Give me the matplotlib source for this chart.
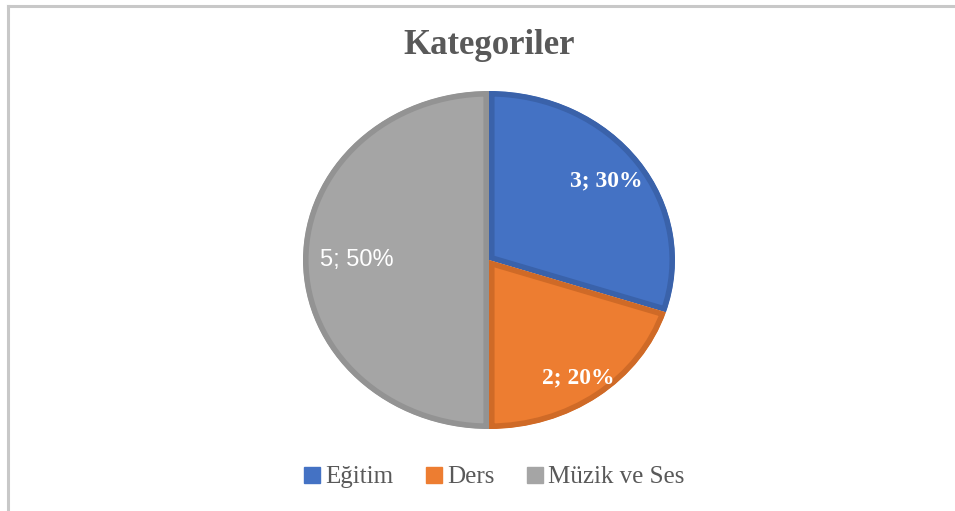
import matplotlib
matplotlib.use("Agg")
import matplotlib.pyplot as plt
from matplotlib.lines import Line2D

categories = ["Eğitim", "Ders", "Müzik ve Ses"]
values = [3, 2, 5]
fill_colors = ["#4472C4", "#ED7D31", "#A5A5A5"]
edge_colors = ["#3A62AA", "#CF6A27", "#939393"]
title = "Kategoriler"

W, H = 955, 511
fig = plt.figure(figsize=(W / 100, H / 100), dpi=100)
fig.patch.set_facecolor("white")

# chart frame (top and left edges visible)
fig.add_artist(Line2D([8 / W, 1.0], [1 - 6 / H, 1 - 6 / H], color="#C8C8C8", lw=2.2,
                      transform=fig.transFigure))
fig.add_artist(Line2D([8 / W, 8 / W], [0.0, 1 - 6 / H], color="#C8C8C8", lw=2.2,
                      transform=fig.transFigure))

# pie area in pixel coordinates
cx, cy, rx, ry = 489, 260, 186, 169
ax = fig.add_axes([(cx - rx) / W, (H - cy - ry) / H, 2 * rx / W, 2 * ry / H])

total = sum(values)
wedges, _ = ax.pie(values, colors=fill_colors, startangle=90, counterclock=False,
                   radius=1.0, wedgeprops=dict(linewidth=0))
ax.set_aspect("auto")
ax.set_xlim(-1, 1)
ax.set_ylim(-1, 1)
ax.axis("off")

# darker inner border on each slice: stroke the outline, clipped to the slice itself
for w, ec in zip(wedges, edge_colors):
    w.set_edgecolor(ec)
    w.set_linewidth(8)
    w.set_clip_on(True)
    w.set_clip_path(w.get_path(), w.get_transform())

# data labels
label_pos = [(0.63, 0.47), (0.48, -0.70), (-0.71, 0.0)]
for i, (v, (lx, ly)) in enumerate(zip(values, label_pos)):
    txt = f"{v}; {round(100 * v / total)}%"
    if i < 2:
        ax.text(lx, ly, txt, ha="center", va="center", color="white",
                fontsize=17, fontweight="bold", family="Liberation Serif")
    else:
        ax.text(lx, ly, txt, ha="center", va="center", color="white",
                fontsize=17, family="Liberation Sans")

fig.text(489 / W, 1 - 45 / H, title, ha="center", va="center", color="#595959",
         fontsize=25, fontweight="bold", family="Liberation Serif")

handles = [Line2D([], [], marker="s", linestyle="", markersize=11,
                  markerfacecolor=c, markeredgecolor=c) for c in fill_colors]
fig.legend(handles, categories, loc="center", bbox_to_anchor=(494 / W, 1 - 477 / H),
           ncol=3, frameon=False, handlelength=0.7, handletextpad=0.15,
           columnspacing=1.3, prop=dict(family="Liberation Serif", size=18),
           labelcolor="#595959")

fig.savefig("out.png", dpi=100, facecolor="white")
